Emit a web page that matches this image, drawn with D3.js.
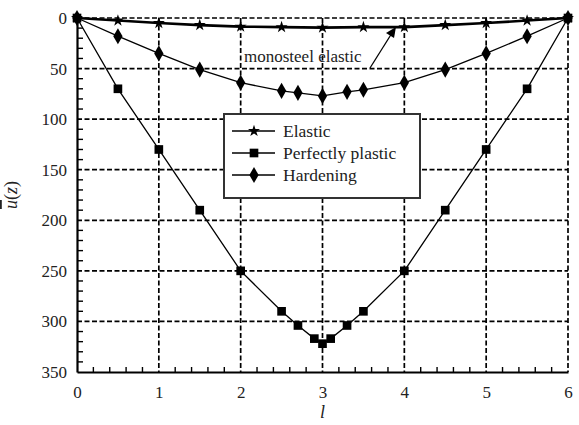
<!DOCTYPE html>
<html><head><meta charset="utf-8">
<script src="https://cdn.jsdelivr.net/npm/d3@7"></script>
<style>body{margin:0;background:#fff}svg{display:block}svg text{font-family:"Liberation Serif","Times New Roman",serif !important;fill:#222}</style>
</head><body><svg id="c" width="579" height="425"></svg>
<script>
const elasticX = [0,0.5,1,1.5,2,2.5,3,3.5,4,4.5,5,5.5,6];
const elasticY = [0,2.5,5,7,8.5,9,9.5,9,9,7,5,2.5,0];
const plasticX = [0,0.5,1,1.5,2,2.5,2.7,2.9,3,3.1,3.3,3.5,4,4.5,5,5.5,6];
const plasticY = [0,70,130,190,250,290,304,317,322,317,304,290,250,190,130,70,0];
const hardX = [0,0.5,1,1.5,2,2.5,2.7,3,3.3,3.5,4,4.5,5,5.5,6];
const hardY = [0,18,35,51,64,72,74,77,73,71,64,51,35,18,0];
const xTicks = [0,1,2,3,4,5,6];
const yTicks = [0,50,100,150,200,250,300,350];
const seriesNames = ["Elastic","Perfectly plastic","Hardening"];

const svg = d3.select("#c");
const x = d3.scaleLinear().domain([0,6]).range([77,568]);
const y = d3.scaleLinear().domain([0,350]).range([18,372]);

// grid
const g = svg.append("g");
g.selectAll(".vg").data(xTicks.slice(1)).join("line")
  .attr("x1",d=>x(d)).attr("x2",d=>x(d)).attr("y1",y(0)).attr("y2",y(350))
  .attr("stroke","#000").attr("stroke-width",1.7).attr("stroke-dasharray","5,2.5");
g.selectAll(".hg").data(yTicks.slice(0,-1)).join("line")
  .attr("y1",d=>y(d)).attr("y2",d=>y(d)).attr("x1",x(0)).attr("x2",x(6))
  .attr("stroke","#000").attr("stroke-width",1.7).attr("stroke-dasharray","5,2.5");

// axes
const xAxis = d3.axisBottom(x).tickValues(xTicks).tickSize(0).tickPadding(14).tickFormat(d3.format("d"));
const xa = svg.append("g").attr("transform",`translate(0,${y(350)})`).call(xAxis);
xa.select(".domain").attr("stroke","#000").attr("stroke-width",2.2);
xa.selectAll("text").attr("font-size",17).attr("fill","#222");
const xMinor = d3.range(0,30).map(i=>i*0.2).filter((d,i)=>i%5!==0);
xa.selectAll(".mt").data(xMinor).join("line").attr("x1",d=>x(d)).attr("x2",d=>x(d))
  .attr("y1",0).attr("y2",-5).attr("stroke","#000").attr("stroke-width",1.4);

const yAxis = d3.axisLeft(y).tickValues(yTicks).tickSize(0).tickPadding(10);
const ya = svg.append("g").attr("transform",`translate(${x(0)},0)`).call(yAxis);
ya.select(".domain").attr("stroke","#000").attr("stroke-width",2.2);
ya.selectAll("text").attr("font-size",17).attr("fill","#222");
const yMinor = d3.range(0,35).map(i=>i*10).filter((d,i)=>i%5!==0);
ya.selectAll(".mt").data(yMinor).join("line").attr("y1",d=>y(d)).attr("y2",d=>y(d))
  .attr("x1",0).attr("x2",6).attr("stroke","#000").attr("stroke-width",1.4);

// series
const line = d3.line().x(d=>x(d[0])).y(d=>y(d[1]));
function drawSeries(xs, ys, sym, size, sw){
  const data = xs.map((v,i)=>[v,ys[i]]);
  svg.append("path").datum(data).attr("d",line).attr("fill","none").attr("stroke","#000").attr("stroke-width",sw);
  svg.append("g").selectAll("path").data(data).join("path")
    .attr("transform",d=>`translate(${x(d[0])},${y(d[1])})`)
    .attr("d",d3.symbol().type(sym).size(size)).attr("fill","#000");
}
drawSeries(plasticX, plasticY, d3.symbolSquare, 75, 1.3);
drawSeries(hardX, hardY, d3.symbolDiamond, 75, 1.3);
drawSeries(elasticX, elasticY, d3.symbolStar, 45, 2.6);

// annotation
svg.append("text").attr("x",244).attr("y",62).attr("font-size",17).text("monosteel elastic");
svg.append("line").attr("x1",370).attr("y1",68).attr("x2",392).attr("y2",33)
  .attr("stroke","#000").attr("stroke-width",1.3);
svg.append("path").attr("d","M396,27 L386,33 L394,38 Z").attr("fill","#000");

// legend
const lg = svg.append("g");
lg.append("rect").attr("x",224).attr("y",114).attr("width",196).attr("height",84)
  .attr("fill","#fff").attr("stroke","#333").attr("stroke-width",2);
const syms = [d3.symbolStar, d3.symbolSquare, d3.symbolDiamond];
const sizes = [45,75,75];
seriesNames.forEach((n,i)=>{
  const cy = 131 + i*22;
  lg.append("line").attr("x1",232).attr("x2",275).attr("y1",cy).attr("y2",cy).attr("stroke","#000").attr("stroke-width",1.6);
  lg.append("path").attr("transform",`translate(254,${cy})`).attr("d",d3.symbol().type(syms[i]).size(sizes[i])).attr("fill","#000");
  lg.append("text").attr("x",283).attr("y",cy+5.5).attr("font-size",17.5).text(n);
});

// axis titles
svg.append("text").attr("x",x(3)).attr("y",418).attr("text-anchor","middle")
  .attr("font-size",18).attr("font-style","italic").text("l");
const yt = svg.append("text").attr("transform","translate(17,195) rotate(-90)").attr("text-anchor","middle").attr("font-size",18);
yt.append("tspan").attr("font-style","italic").attr("text-decoration","overline").text("u");
yt.append("tspan").text("(");
yt.append("tspan").attr("font-style","italic").text("z");
yt.append("tspan").text(")");
</script></body></html>
